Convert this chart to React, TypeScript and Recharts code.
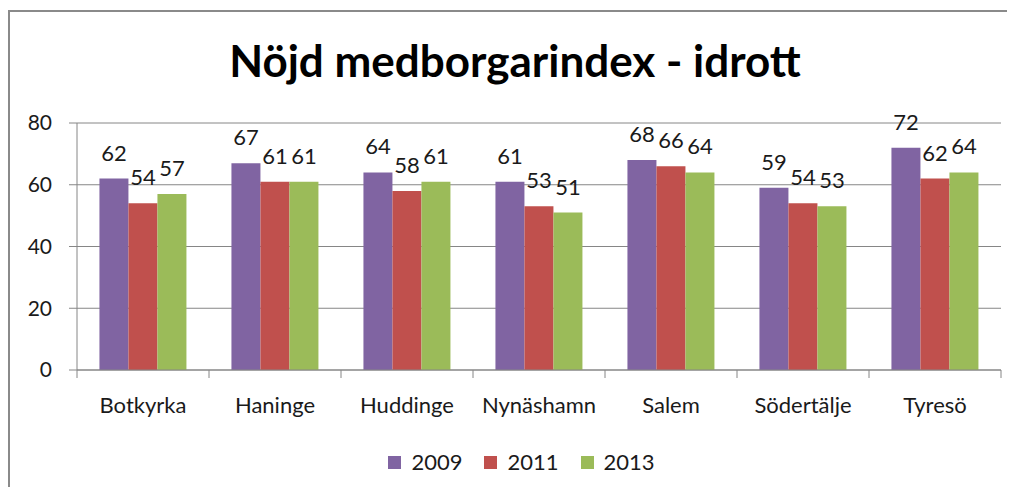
import React from "react";
import {
  BarChart,
  Bar,
  XAxis,
  YAxis,
  CartesianGrid,
  Legend,
  LabelList,
} from "recharts";

const kommuner = [
  "Botkyrka",
  "Haninge",
  "Huddinge",
  "Nynäshamn",
  "Salem",
  "Södertälje",
  "Tyresö",
];

const values2009 = [62, 67, 64, 61, 68, 59, 72];
const values2011 = [54, 61, 58, 53, 66, 54, 62];
const values2013 = [57, 61, 61, 51, 64, 53, 64];

const yTicks = [0, 20, 40, 60, 80];

const series = [
  { key: "y2009", name: "2009", color: "#8064A2" },
  { key: "y2011", name: "2011", color: "#C0504D" },
  { key: "y2013", name: "2013", color: "#9BBB59" },
];

const data = kommuner.map((name, i) => ({
  name,
  y2009: values2009[i],
  y2011: values2011[i],
  y2013: values2013[i],
}));

const FONT = "Lato, 'Open Sans', sans-serif";
const AXIS_GRAY = "#868686";

// Excel draws the category tick marks between the groups, not under them
const CategoryTick = (props: any) => {
  const { x, y, payload, index, visibleTicksCount } = props;
  const half = payload?.offset ?? 66;
  const isLast = index === visibleTicksCount - 1;
  return (
    <g>
      <line x1={x - half} x2={x - half} y1={y - 8} y2={y} stroke={AXIS_GRAY} />
      {isLast && (
        <line x1={x + half} x2={x + half} y1={y - 8} y2={y} stroke={AXIS_GRAY} />
      )}
      <text
        x={x}
        y={y + 35}
        textAnchor="middle"
        fill="#1a1a1a"
        fontSize={22}
        fontFamily={FONT}
      >
        {payload.value}
      </text>
    </g>
  );
};

const renderLegend = (props: any) => {
  const { payload } = props;
  return (
    <div
      style={{
        display: "flex",
        justifyContent: "center",
        paddingLeft: 56,
        fontFamily: FONT,
        fontSize: 22,
        color: "#1a1a1a",
        lineHeight: "24px",
      }}
    >
      {payload.map((entry: any) => (
        <div
          key={entry.value}
          style={{ display: "flex", alignItems: "center", marginRight: 22 }}
        >
          <span
            style={{
              display: "inline-block",
              width: 13,
              height: 13,
              background: entry.color,
              marginRight: 10,
            }}
          />
          <span>{entry.value}</span>
        </div>
      ))}
    </div>
  );
};

export default function App() {
  return (
    <div
      style={{
        position: "relative",
        width: 1007,
        height: 487,
        marginBottom: -8,
        overflow: "hidden",
        background: "#fff",
      }}
    >
      <style>{`html, body { overflow: hidden; }`}</style>
      {/* only the top and left edges of the chart frame are inside the picture */}
      <div
        style={{
          position: "absolute",
          left: 0,
          top: 2,
          width: 1100,
          height: 600,
          borderTop: "2px solid #8a8a8a",
          borderLeft: "2px solid #8a8a8a",
          boxSizing: "border-box",
        }}
      />
      <div
        style={{
          position: "absolute",
          left: 0,
          top: 30,
          width: 1014,
          textAlign: "center",
          fontFamily: FONT,
          fontWeight: 700,
          fontSize: 44,
          lineHeight: 1,
          color: "#000",
        }}
      >
        Nöjd medborgarindex - idrott
      </div>
      <div style={{ position: "absolute", left: 0, top: 0 }}>
        <BarChart
          width={1007}
          height={487}
          data={data}
          margin={{ top: 115, right: 14, left: 0, bottom: 61 }}
          barCategoryGap="17%"
          barGap={0}
        >
          <CartesianGrid vertical={false} stroke={AXIS_GRAY} />
          <XAxis
            dataKey="name"
            height={40}
            axisLine={{ stroke: AXIS_GRAY }}
            tickLine={false}
            tickSize={8}
            tickMargin={0}
            interval={0}
            tick={<CategoryTick />}
          />
          <YAxis
            width={69}
            domain={[0, 80]}
            ticks={yTicks}
            interval={0}
            axisLine={{ stroke: AXIS_GRAY }}
            tickLine={{ stroke: AXIS_GRAY }}
            tickSize={8}
            tickMargin={17}
            tick={{ fill: "#1a1a1a", fontSize: 21, fontFamily: FONT }}
          />
          <Legend
            verticalAlign="bottom"
            content={renderLegend}
            wrapperStyle={{ bottom: 21 }}
          />
          {series.map((s) => (
            <Bar
              key={s.key}
              dataKey={s.key}
              name={s.name}
              fill={s.color}
              isAnimationActive={false}
            >
              <LabelList
                dataKey={s.key}
                position="top"
                offset={18}
                fill="#1a1a1a"
                fontSize={22}
                fontFamily={FONT}
              />
            </Bar>
          ))}
        </BarChart>
      </div>
    </div>
  );
}
